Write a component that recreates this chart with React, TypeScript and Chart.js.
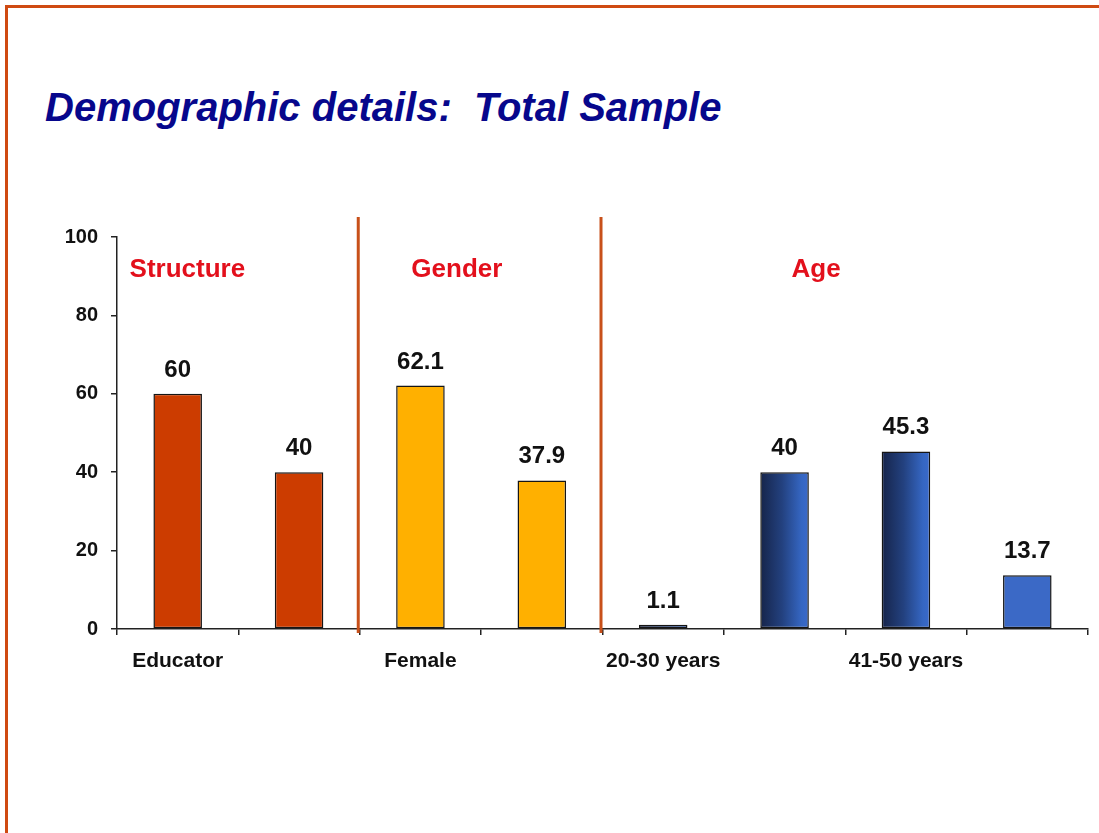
import React, { useEffect, useRef } from "react";
import { Chart, registerables } from "chart.js";

Chart.register(...registerables);

const categories = ["Educator", "", "Female", "", "20-30 years", "", "41-50 years", ""];
const values = [60, 40, 62.1, 37.9, 1.1, 40, 45.3, 13.7];
const sectionNames = ["Structure", "Gender", "Age"];
const sectionOfCategory = [0, 0, 1, 1, 2, 2, 2, 2];
const yTickValues = [0, 20, 40, 60, 80, 100];
const titleText = "Demographic details:  Total Sample";

const FONT = "'Liberation Sans', Arial, sans-serif";
const BAR_PCT = 0.4;

const barFill = (c: any) => {
  const i = c.dataIndex;
  const sec = sectionOfCategory[i];
  if (sec === 0) return "#CC3C00";
  if (sec === 1) return "#FFB000";
  if (i === values.length - 1) return "#3B69C6";
  const chart = c.chart;
  const xs = chart.scales && chart.scales.x;
  if (!xs || !chart.chartArea) return "#24407E";
  const cx = xs.getPixelForValue(i);
  const w = (xs.width / categories.length) * BAR_PCT;
  const g = chart.ctx.createLinearGradient(cx - w / 2, 0, cx + w / 2, 0);
  g.addColorStop(0, "#16244A");
  g.addColorStop(0.45, "#23417F");
  g.addColorStop(0.85, "#3566C2");
  g.addColorStop(1, "#3A6ACB");
  return g;
};

const overlayPlugin = {
  id: "overlay",
  afterDatasetsDraw(chart: any) {
    const { ctx, chartArea, scales } = chart;
    const xs = scales.x;
    const ys = scales.y;
    ctx.save();
    // separators between sections
    ctx.strokeStyle = "#C8501A";
    ctx.lineWidth = 3;
    for (let i = 1; i < categories.length; i++) {
      if (sectionOfCategory[i] !== sectionOfCategory[i - 1]) {
        const x = (xs.getPixelForValue(i - 1) + xs.getPixelForValue(i)) / 2 - 1.5;
        ctx.beginPath();
        ctx.moveTo(x, chartArea.top - 20);
        ctx.lineTo(x, chartArea.bottom + 4);
        ctx.stroke();
      }
    }
    // section labels
    const anchors = [0.08, 2.3, 5.26];
    ctx.fillStyle = "#E3101C";
    ctx.font = `bold 26px ${FONT}`;
    ctx.textAlign = "center";
    ctx.textBaseline = "middle";
    sectionNames.forEach((name, k) => {
      const a = anchors[k];
      const base = Math.floor(a);
      const x0 = xs.getPixelForValue(base);
      const x1 = xs.getPixelForValue(base + 1);
      const x = x0 + (x1 - x0) * (a - base);
      ctx.fillText(name, x, ys.getPixelForValue(91.5));
    });
    // value labels
    const meta = chart.getDatasetMeta(0);
    ctx.fillStyle = "#111";
    ctx.font = `bold 24px ${FONT}`;
    ctx.textBaseline = "alphabetic";
    meta.data.forEach((bar: any, i: number) => {
      ctx.fillText(String(values[i]), bar.x, bar.y - 17);
    });
    ctx.restore();
  },
};

export default function App() {
  const ref = useRef<HTMLCanvasElement | null>(null);
  useEffect(() => {
    if (!ref.current) return;
    const chart = new Chart(ref.current, {
      type: "bar",
      data: {
        labels: categories,
        datasets: [
          {
            data: values,
            backgroundColor: barFill as any,
            borderColor: "#151515",
            borderWidth: 1.5,
            borderSkipped: false,
            barPercentage: BAR_PCT,
            categoryPercentage: 1,
          },
        ],
      },
      options: {
        animation: false,
        responsive: false,
        maintainAspectRatio: false,
        layout: { padding: { left: 0, right: 11, top: 237, bottom: 154 } },
        plugins: {
          legend: { display: false },
          tooltip: { enabled: false },
          title: { display: false },
        },
        scales: {
          x: {
            afterFit: (s: any) => {
              s.height = 50;
            },
            grid: {
              display: true,
              offset: true,
              drawOnChartArea: false,
              drawTicks: true,
              tickLength: 6,
              color: "#222",
              lineWidth: 1.5,
            },
            border: { display: true, color: "#222", width: 1.5 },
            ticks: {
              autoSkip: false,
              maxRotation: 0,
              minRotation: 0,
              padding: 14,
              color: "#111",
              font: { family: FONT, size: 21, weight: "bold" },
            },
          },
          y: {
            min: 0,
            max: 100,
            afterFit: (s: any) => {
              s.width = 117;
            },
            afterBuildTicks: (s: any) => {
              s.ticks = yTickValues.map((v) => ({ value: v }));
            },
            grid: {
              display: true,
              drawOnChartArea: false,
              drawTicks: true,
              tickLength: 6,
              color: "#222",
              lineWidth: 1.5,
            },
            border: { display: true, color: "#222", width: 1.5 },
            ticks: {
              padding: 13,
              color: "#111",
              font: { family: FONT, size: 20, weight: "bold" },
            },
          },
        },
      },
      plugins: [overlayPlugin],
    });
    return () => chart.destroy();
  }, []);

  return (
    <div style={{ position: "absolute", left: 0, top: 0, width: 1099, height: 833, background: "#fff", overflow: "hidden" }}>
      <div style={{ position: "absolute", left: 5, top: 5, width: 1094, height: 828, borderLeft: "3px solid #CF4A12", borderTop: "3px solid #CF4A12" }} />
      <div
        style={{
          position: "absolute",
          left: 45,
          top: 87,
          fontFamily: FONT,
          fontSize: 40,
          lineHeight: "40px",
          fontWeight: "bold",
          fontStyle: "italic",
          color: "#07078C",
          whiteSpace: "pre",
        }}
      >
        {titleText}
      </div>
      <canvas ref={ref} width={1099} height={833} style={{ position: "absolute", left: 0, top: 0, width: 1099, height: 833 }} />
    </div>
  );
}
